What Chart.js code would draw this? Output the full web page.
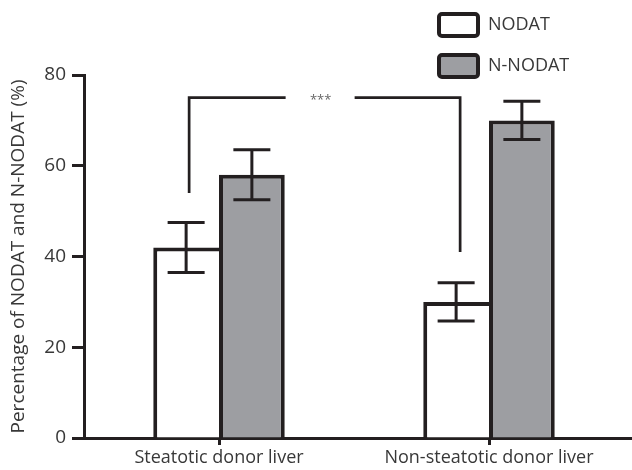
<!DOCTYPE html>
<html>
<head>
<meta charset="utf-8">
<script src="https://cdn.jsdelivr.net/npm/chart.js@4"></script>
<style>
  html, body { margin: 0; padding: 0; background: #fff; }
  #wrap { width: 632px; height: 470px; }
</style>
</head>
<body>
<div id="wrap"><canvas id="c" width="632" height="470"></canvas></div>
<script>
const categories = ['Steatotic donor liver', 'Non-steatotic donor liver'];
const seriesNames = ['NODAT', 'N-NODAT'];
const nodat = [42, 30];
const nodatErr = [5.5, 4.2];
const nnodat = [58, 70];
const nnodatErr = [5.5, 4.2];
const yTicks = [0, 20, 40, 60, 80];
const sigLevel = 75;          // bracket height
const sigEnds = [54, 41];     // lower ends of bracket legs
const sigLabel = '***';

const INK = '#231f20';
const TXT = '#383838';
const GREY = '#9d9ea2';
const FONT = '"Open Sans", "Noto Sans", sans-serif';

const errorBars = {
  id: 'errorBars',
  afterDatasetsDraw(chart) {
    const ctx = chart.ctx;
    const y = chart.scales.y;
    const errs = [nodatErr, nnodatErr];
    const vals = [nodat, nnodat];
    ctx.save();
    // extend x axis line to the right edge
    const ax = chart.scales.x;
    const by0 = Math.round(ax.top - 1.5) + 1.5;
    ctx.strokeStyle = INK;
    ctx.lineWidth = 3;
    ctx.beginPath();
    ctx.moveTo(chart.chartArea.right - 2, by0);
    ctx.lineTo(chart.width, by0);
    ctx.stroke();

    ctx.lineCap = 'butt';
    for (let d = 0; d < 2; d++) {
      const meta = chart.getDatasetMeta(d);
      meta.data.forEach((bar, i) => {
        const x = bar.x;
        const top = y.getPixelForValue(vals[d][i] + errs[d][i]);
        const bot = y.getPixelForValue(vals[d][i] - errs[d][i]);
        const hw = 18.5;
        ctx.beginPath();
        ctx.moveTo(x, top); ctx.lineTo(x, bot);
        ctx.moveTo(x - hw, top); ctx.lineTo(x + hw, top);
        ctx.moveTo(x - hw, bot); ctx.lineTo(x + hw, bot);
        ctx.stroke();
      });
    }
    // significance bracket between NODAT bars
    const m0 = chart.getDatasetMeta(0).data;
    const xl = m0[0].x + 3, xr = m0[1].x + 4;
    const ys = y.getPixelForValue(sigLevel);
    const yl = y.getPixelForValue(sigEnds[0]);
    const yr = y.getPixelForValue(sigEnds[1]);
    const xm = (xl + xr) / 2;
    ctx.lineWidth = 2.7;
    ctx.beginPath();
    ctx.moveTo(xl, yl); ctx.lineTo(xl, ys); ctx.lineTo(xm - 39, ys);
    ctx.moveTo(xm + 30, ys); ctx.lineTo(xr, ys); ctx.lineTo(xr, yr);
    ctx.stroke();
    ctx.fillStyle = '#666';
    ctx.font = '13px ' + FONT;
    ctx.textAlign = 'center';
    ctx.textBaseline = 'middle';
    ctx.fillText(sigLabel, xm - 4, ys + 3);
    // custom legend
    const fills = ['#ffffff', GREY];
    seriesNames.forEach((name, i) => {
      const bx = 439, by = 14 + i * 41, bw = 39, bh = 22;
      ctx.lineWidth = 4;
      ctx.strokeStyle = INK;
      ctx.fillStyle = fills[i];
      ctx.beginPath();
      ctx.roundRect(bx, by, bw, bh, 3);
      ctx.fill();
      ctx.stroke();
      ctx.fillStyle = TXT;
      ctx.font = '18px ' + FONT;
      ctx.textAlign = 'left';
      ctx.textBaseline = 'middle';
      ctx.fillText(name, 488, by + bh / 2);
    });
    ctx.restore();
  }
};

new Chart(document.getElementById('c'), {
  type: 'bar',
  data: {
    labels: categories,
    datasets: [
      { label: seriesNames[0], data: nodat, backgroundColor: '#ffffff', borderColor: INK,
        borderWidth: { left: 4, top: 4, right: 0, bottom: 0 }, borderSkipped: false },
      { label: seriesNames[1], data: nnodat, backgroundColor: GREY, borderColor: INK,
        borderWidth: { left: 4, top: 4, right: 4, bottom: 0 }, borderSkipped: false }
    ]
  },
  options: {
    responsive: false,
    animation: false,
    events: [],
    layout: { padding: { top: 75, right: 8, left: 0, bottom: 0 } },
    datasets: { bar: { barPercentage: 1, categoryPercentage: 0.487 } },
    plugins: { legend: { display: false }, tooltip: { enabled: false } },
    scales: {
      x: {
        offset: true,
        grid: { display: true, drawOnChartArea: false, offset: false, tickLength: 7, tickWidth: 3, tickColor: INK },
        border: { display: true, width: 3, color: INK },
        ticks: { font: { family: FONT, size: 18 }, color: TXT, padding: 2, maxRotation: 0 },
        afterFit: s => { s.height = 32; }
      },
      y: {
        min: 0, max: 80,
        afterBuildTicks: s => { s.ticks = yTicks.map(v => ({ value: v })); },
        grid: { display: true, drawOnChartArea: false, tickLength: 12, tickWidth: 3, tickColor: INK },
        border: { display: true, width: 3, color: INK },
        ticks: { font: { family: FONT, size: 19 }, color: TXT, padding: 6 },
        title: { display: true, text: 'Percentage of NODAT and N-NODAT (%)', color: TXT,
                 font: { family: FONT, size: 19 }, padding: { top: 7, bottom: 0 } },
        afterFit: s => { s.width = 84; }
      }
    }
  },
  plugins: [errorBars]
});
</script>
</body>
</html>
